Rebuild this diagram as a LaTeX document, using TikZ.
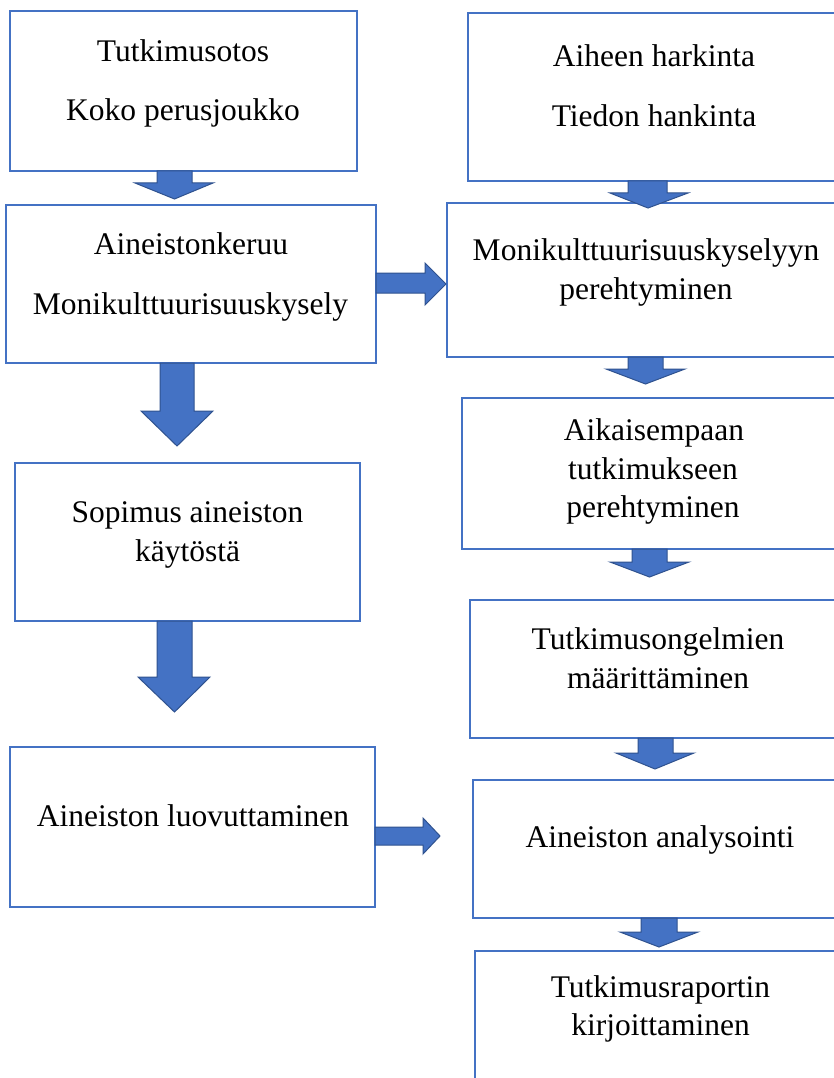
\documentclass[tikz,border=0pt]{standalone}
\usepackage{fontspec}
\setmainfont{Liberation Serif}
\definecolor{boxblue}{HTML}{4472C4}
\definecolor{arrowedge}{HTML}{2F528F}
\tikzset{
  box/.style={draw=boxblue, line width=1.6pt, rectangle, inner sep=0pt, outer sep=0pt, fill=white},
  txt/.style={anchor=base, inner sep=0pt, font=\fontsize{31.5}{38}\selectfont},
  blockarrow/.style={fill=boxblue, draw=arrowedge, line width=1pt, line join=miter}
}
\begin{document}
\begin{tikzpicture}[x=1pt,y=-1pt]
\clip (0,0) rectangle (834,1078);
\fill[white] (0,0) rectangle (834,1078);
% boxes
\node[box, minimum width=347pt, minimum height=160pt] (A) at (183.5,91) {};
\node[box, minimum width=370pt, minimum height=158pt] (B) at (191,284) {};
\node[box, minimum width=345pt, minimum height=158pt] (C) at (187.5,542) {};
\node[box, minimum width=365pt, minimum height=160pt] (D) at (192.5,827) {};
\node[box, minimum width=382pt, minimum height=168pt] (G) at (659,97) {};
\node[box, minimum width=403pt, minimum height=154pt] (H) at (648.5,280) {};
\node[box, minimum width=388pt, minimum height=151pt] (I) at (656,473.5) {};
\node[box, minimum width=380pt, minimum height=138pt] (J) at (660,669) {};
\node[box, minimum width=377pt, minimum height=138pt] (E) at (661.5,849) {};
\node[box, minimum width=375pt, minimum height=149pt] (F) at (662.5,1025.5) {};
% texts
\node[txt] (a1) at (183,62) {Tutkimusotos};
\node[txt] (a2) at (183,121) {Koko perusjoukko};
\node[txt] (b1) at (191,254) {Aineistonkeruu};
\node[txt] (b2) at (190.5,314) {Monikulttuurisuuskysely};
\node[txt] (c1) at (187.5,522) {Sopimus aineiston};
\node[txt] (c2) at (187.5,561) {käytöstä};
\node[txt] (d1) at (193,826) {Aineiston luovuttaminen};
\node[txt] (g1) at (654,67) {Aiheen harkinta};
\node[txt] (g2) at (654,127) {Tiedon hankinta};
\node[txt] (h1) at (646,260) {Monikulttuurisuuskyselyyn};
\node[txt] (h2) at (646,299) {perehtyminen};
\node[txt] (i1) at (654,440) {Aikaisempaan};
\node[txt] (i2) at (653,479) {tutkimukseen};
\node[txt] (i3) at (653,517) {perehtyminen};
\node[txt] (j1) at (658,649) {Tutkimusongelmien};
\node[txt] (j2) at (658,688) {määrittäminen};
\node[txt] (e1) at (660,847) {Aineiston analysointi};
\node[txt] (f1) at (660.5,997) {Tutkimusraportin};
\node[txt] (f2) at (660.5,1035) {kirjoittaminen};
% down block arrows
\draw[blockarrow] (157,171) -- (157,183) -- (135,183) -- (174.5,199) -- (213,183) -- (192,183) -- (192,171) -- cycle;
\draw[blockarrow] (160,363) -- (160,411) -- (141,411) -- (177,446) -- (213,411) -- (194,411) -- (194,363) -- cycle;
\draw[blockarrow] (157,621) -- (157,677) -- (138,677) -- (174.5,712) -- (210,677) -- (192,677) -- (192,621) -- cycle;
\draw[blockarrow] (628,181) -- (628,193) -- (610,193) -- (648,208) -- (688,193) -- (667,193) -- (667,181) -- cycle;
\draw[blockarrow] (628,357) -- (628,369) -- (606,369) -- (645.5,384) -- (685,369) -- (663,369) -- (663,357) -- cycle;
\draw[blockarrow] (632,549) -- (632,562) -- (610,562) -- (649.5,577) -- (689,562) -- (667,562) -- (667,549) -- cycle;
\draw[blockarrow] (638,738) -- (638,753) -- (616,753) -- (655,769) -- (694,753) -- (673,753) -- (673,738) -- cycle;
\draw[blockarrow] (641,918) -- (641,932) -- (620,932) -- (659,947) -- (698,932) -- (677,932) -- (677,918) -- cycle;
% right block arrows
\draw[blockarrow] (376,273) -- (425,273) -- (425,263) -- (446,284) -- (425,305) -- (425,293) -- (376,293) -- cycle;
\draw[blockarrow] (375,827) -- (423,827) -- (423,818) -- (440,836) -- (423,854) -- (423,845) -- (375,845) -- cycle;
\end{tikzpicture}
\end{document}
